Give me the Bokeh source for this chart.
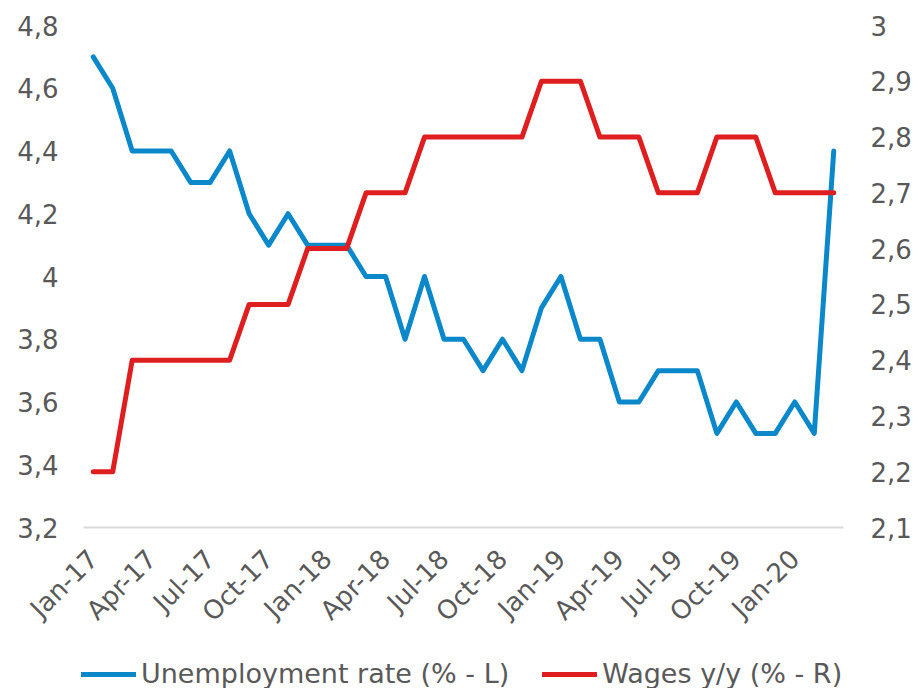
import math
from bokeh.plotting import figure
from bokeh.models import (Range1d, LinearAxis, FixedTicker, CustomJSTickFormatter,
                          Legend, LegendItem, ColumnDataSource)
from bokeh.embed import file_html
from bokeh.resources import INLINE

months = ["Jan-17", "Feb-17", "Mar-17", "Apr-17", "May-17", "Jun-17", "Jul-17", "Aug-17",
          "Sep-17", "Oct-17", "Nov-17", "Dec-17", "Jan-18", "Feb-18", "Mar-18", "Apr-18",
          "May-18", "Jun-18", "Jul-18", "Aug-18", "Sep-18", "Oct-18", "Nov-18", "Dec-18",
          "Jan-19", "Feb-19", "Mar-19", "Apr-19", "May-19", "Jun-19", "Jul-19", "Aug-19",
          "Sep-19", "Oct-19", "Nov-19", "Dec-19", "Jan-20", "Feb-20", "Mar-20"]

unemployment = [4.7, 4.6, 4.4, 4.4, 4.4, 4.3, 4.3, 4.4, 4.2, 4.1, 4.2, 4.1,
                4.1, 4.1, 4.0, 4.0, 3.8, 4.0, 3.8, 3.8, 3.7, 3.8, 3.7, 3.9,
                4.0, 3.8, 3.8, 3.6, 3.6, 3.7, 3.7, 3.7, 3.5, 3.6, 3.5, 3.5,
                3.6, 3.5, 4.4]

wages = [2.2, 2.2, 2.4, 2.4, 2.4, 2.4, 2.4, 2.4, 2.5, 2.5, 2.5, 2.6,
         2.6, 2.6, 2.7, 2.7, 2.7, 2.8, 2.8, 2.8, 2.8, 2.8, 2.8, 2.9,
         2.9, 2.9, 2.8, 2.8, 2.8, 2.7, 2.7, 2.7, 2.8, 2.8, 2.8, 2.7,
         2.7, 2.7, 2.7]

left_ticks = [3.2, 3.4, 3.6, 3.8, 4.0, 4.2, 4.4, 4.6, 4.8]
right_ticks = [2.1, 2.2, 2.3, 2.4, 2.5, 2.6, 2.7, 2.8, 2.9, 3.0]
label_every = 3

BLUE = "#0A88CA"
RED = "#DF1F1F"
TEXT = "#595959"
FONT = "DejaVu Sans"
FS = "26px"

# page layout in pixels: whole canvas is the frame; plot area inside it
W, H = 915, 688
LEFT, RIGHT, TOP, BOTTOM = 83, 843, 25, 527

n = len(months)
x_lo, x_hi = -0.5, n - 0.5

def span(lo, hi, a, b, total):
    per_px = (hi - lo) / (b - a)
    return Range1d(lo - a * per_px, hi + (total - b) * per_px)

def yspan(ticks):
    lo, hi = ticks[0], ticks[-1]
    per_px = (hi - lo) / (BOTTOM - TOP)
    return Range1d(lo - (H - BOTTOM) * per_px, hi + TOP * per_px)

idx = list(range(n))
src = ColumnDataSource(dict(x=idx, u=unemployment, w=wages))

p = figure(frame_width=W, frame_height=H, output_backend="svg", toolbar_location=None,
           x_range=span(x_lo, x_hi, LEFT, RIGHT, W),
           y_range=yspan(left_ticks),
           min_border=0)
p.outline_line_color = None
p.background_fill_color = "white"
p.border_fill_color = "white"
p.xgrid.visible = False
p.ygrid.visible = False

p.extra_y_ranges = {"r": yspan(right_ticks)}

fmt = CustomJSTickFormatter(code="""
const v = Math.round(tick * 10) / 10;
return v.toString().replace('.', ',');
""")

def style_axis(ax, standoff):
    ax.axis_line_color = None
    ax.major_tick_line_color = None
    ax.minor_tick_line_color = None
    ax.major_tick_out = 0
    ax.major_tick_in = 0
    ax.minor_tick_out = 0
    ax.minor_tick_in = 0
    ax.major_label_standoff = standoff
    ax.major_label_text_font = FONT
    ax.major_label_text_font_size = FS
    ax.major_label_text_color = TEXT

# Left axis, drawn at the left edge of the plot area
ya = p.yaxis[0]
ya.fixed_location = x_lo
ya.bounds = (left_ticks[0], left_ticks[-1])
ya.ticker = FixedTicker(ticks=left_ticks)
ya.formatter = fmt
style_axis(ya, 25)

# Right axis, drawn at the right edge of the plot area
ra = LinearAxis(y_range_name="r", ticker=FixedTicker(ticks=right_ticks), formatter=fmt,
                fixed_location=x_hi, bounds=(right_ticks[0], right_ticks[-1]))
style_axis(ra, 27)
p.add_layout(ra, "right")

# X axis, drawn at the bottom value of the left scale
xa = p.xaxis[0]
xa.fixed_location = left_ticks[0]
xa.bounds = (x_lo, x_hi)
xa.ticker = FixedTicker(ticks=idx[::label_every])
xa.major_label_overrides = {i: months[i] for i in idx[::label_every]}
xa.major_label_orientation = math.pi / 4
style_axis(xa, 27)
xa.axis_line_color = "#D9D9D9"
xa.axis_line_width = 2

r1 = p.line("x", "u", source=src, line_color=BLUE, line_width=5,
            line_join="round", line_cap="round")
r2 = p.line("x", "w", source=src, y_range_name="r", line_color=RED, line_width=5,
            line_join="round", line_cap="round")

legend = Legend(items=[LegendItem(label="Unemployment rate (% - L)", renderers=[r1]),
                       LegendItem(label="Wages y/y (% - R)", renderers=[r2])],
                orientation="horizontal", location=(LEFT - 2, -1),
                label_text_font=FONT, label_text_font_size="27px", label_text_color=TEXT,
                glyph_width=55, label_standoff=5, spacing=33, padding=0, margin=0,
                border_line_color=None, background_fill_alpha=0)
p.add_layout(legend, "center")

open("out.html", "w").write(file_html(p, INLINE))
